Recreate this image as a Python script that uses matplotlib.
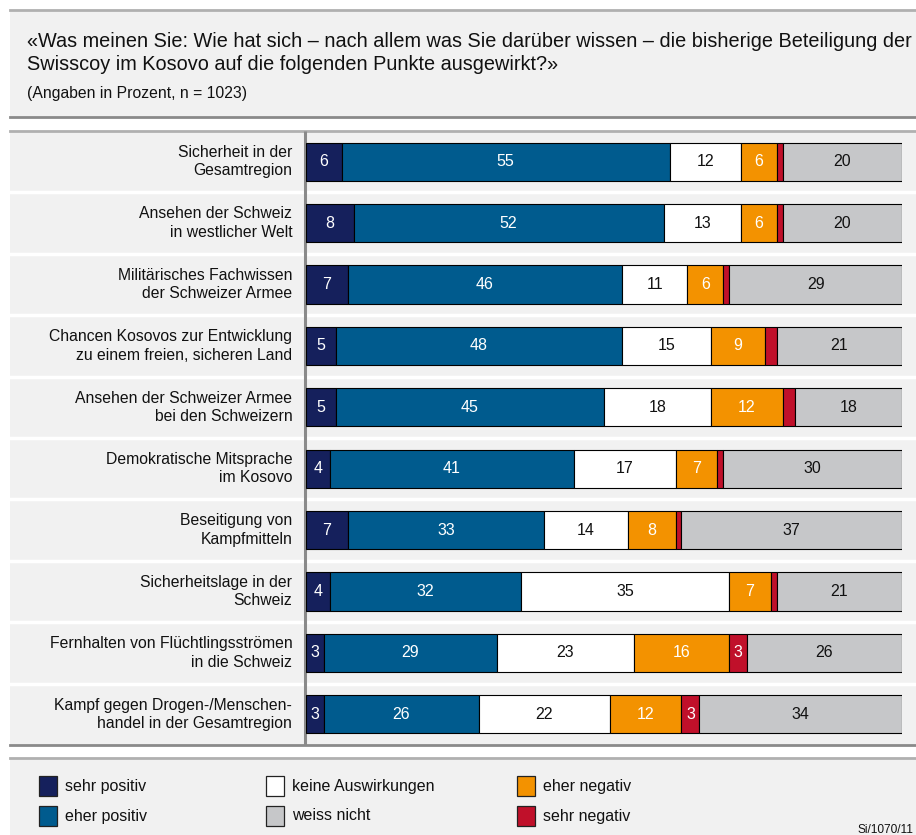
import matplotlib
matplotlib.use("Agg")
import matplotlib.pyplot as plt
from matplotlib.patches import Rectangle
from matplotlib.lines import Line2D

plt.rcParams['font.family'] = ['Liberation Sans', 'DejaVu Sans']

categories = [
    "Sicherheit in der\nGesamtregion",
    "Ansehen der Schweiz\nin westlicher Welt",
    "Militärisches Fachwissen\nder Schweizer Armee",
    "Chancen Kosovos zur Entwicklung\nzu einem freien, sicheren Land",
    "Ansehen der Schweizer Armee\nbei den Schweizern",
    "Demokratische Mitsprache\nim Kosovo",
    "Beseitigung von\nKampfmitteln",
    "Sicherheitslage in der\nSchweiz",
    "Fernhalten von Flüchtlingsströmen\nin die Schweiz",
    "Kampf gegen Drogen-/Menschen-\nhandel in der Gesamtregion",
]
series_names = ["sehr positiv", "eher positiv", "keine Auswirkungen",
                "eher negativ", "sehr negativ", "weiss nicht"]
sehr_positiv = [6, 8, 7, 5, 5, 4, 7, 4, 3, 3]
eher_positiv = [55, 52, 46, 48, 45, 41, 33, 32, 29, 26]
keine_auswirkungen = [12, 13, 11, 15, 18, 17, 14, 35, 23, 22]
eher_negativ = [6, 6, 6, 9, 12, 7, 8, 7, 16, 12]
sehr_negativ = [1, 1, 1, 2, 2, 1, 1, 1, 3, 3]
weiss_nicht = [20, 20, 29, 21, 18, 30, 37, 21, 26, 34]
series = [sehr_positiv, eher_positiv, keine_auswirkungen,
          eher_negativ, sehr_negativ, weiss_nicht]
colors = ["#15205c", "#005b8e", "#ffffff", "#f39200", "#c0102a", "#c6c7c9"]
text_colors = ["white", "white", "#111111", "white", "white", "#111111"]

title = ("«Was meinen Sie: Wie hat sich – nach allem was Sie darüber wissen – die bisherige Beteiligung der\n"
         "Swisscoy im Kosovo auf die folgenden Punkte ausgewirkt?»")
subtitle = "(Angaben in Prozent, n = 1023)"
source = "Si/1070/11"

W, H = 916, 835
fig = plt.figure(figsize=(W / 100, H / 100), dpi=100, facecolor="white")

def fx(x):
    return x / W

def fy(y):
    return 1 - y / H

panel_bg = "#f1f1f1"
for (y0, y1) in [(10, 117), (131, 745), (758, 835)]:
    fig.patches.append(Rectangle((fx(10), fy(y1)), fx(916) - fx(10), fy(y0) - fy(y1),
                                 transform=fig.transFigure, facecolor=panel_bg,
                                 edgecolor="none", zorder=-2))
for y, c in [(10, "#b0b0b0"), (117, "#8a8a8a"), (131, "#b0b0b0"), (745, "#8a8a8a"), (758, "#b0b0b0")]:
    fig.lines.append(Line2D([fx(10), fx(916)], [fy(y), fy(y)], transform=fig.transFigure,
                            color=c, linewidth=2.0, zorder=-1))

fig.text(fx(27), fy(32), title, ha="left", va="top", fontsize=14.3, color="#111111",
         linespacing=1.3)
fig.text(fx(27), fy(86), subtitle, ha="left", va="top", fontsize=11.3, color="#111111")

n = len(categories)
top, bottom = 131, 745
left, right = 306, 902
ax = fig.add_axes([fx(left), fy(bottom), fx(right) - fx(left), fy(top) - fy(bottom)])
ax.set_zorder(5)
ax.set_xlim(0, 100)
ax.set_ylim(n, 0)
ax.axis("off")
ax.patch.set_alpha(0)

ypos = [i + 0.5 for i in range(n)]
xt = ax.get_yaxis_transform()
for i in range(1, n):
    ax.plot([-0.52, 1.03], [i, i], transform=xt, color="white",
            linewidth=2.5, clip_on=False, zorder=1, solid_capstyle="butt")
ax.plot([-0.002, -0.002], [0, n], transform=xt, color="#8a8a8a",
        linewidth=2.2, clip_on=False, zorder=2, solid_capstyle="butt")

lefts = [0.0] * n
for vals, col, tc in zip(series, colors, text_colors):
    ax.barh(ypos, vals, left=lefts, height=0.62, color=col, edgecolor="black",
            linewidth=0.8, zorder=3)
    for i, v in enumerate(vals):
        if v >= 3:
            ax.text(lefts[i] + v / 2, ypos[i], str(v), ha="center", va="center",
                    fontsize=11.5, color=tc, zorder=4)
    lefts = [l + v for l, v in zip(lefts, vals)]

for i, cat in enumerate(categories):
    ax.text(-2.3, ypos[i], cat, ha="right", va="center", fontsize=11.3,
            color="#111111", multialignment="right", linespacing=1.28, clip_on=False)

leg_cols = [39, 266, 517]
leg_rows = [786, 816]
layout = {0: (0, 0), 1: (0, 1), 2: (1, 0), 5: (1, 1), 3: (2, 0), 4: (2, 1)}
for si, (c, r) in layout.items():
    x0 = leg_cols[c]
    yc = leg_rows[r]
    fig.patches.append(Rectangle((fx(x0), fy(yc + 10)), fx(18), 20 / H,
                                 transform=fig.transFigure, facecolor=colors[si],
                                 edgecolor="#222222", linewidth=0.9, zorder=3))
    fig.text(fx(x0 + 26), fy(yc), series_names[si], ha="left", va="center",
             fontsize=11.5, color="#111111")

fig.text(fx(913), fy(830), source, ha="right", va="center", fontsize=8.6, color="#111111")

fig.savefig("out.png", dpi=100, facecolor=fig.get_facecolor())
